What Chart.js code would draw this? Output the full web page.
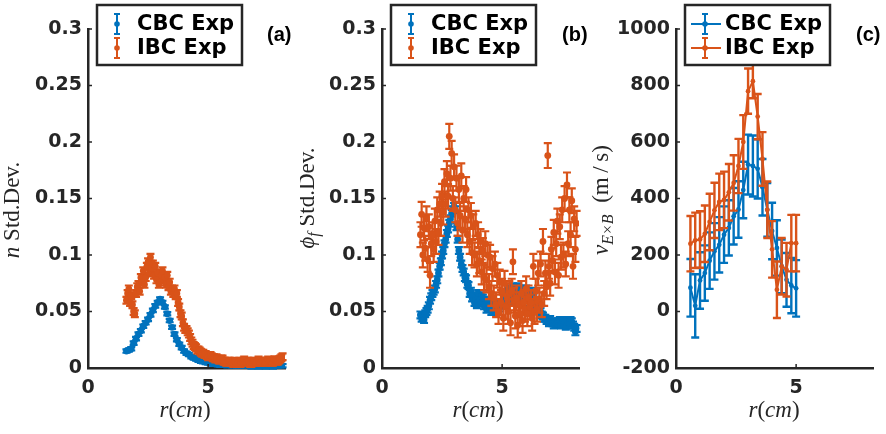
<!DOCTYPE html>
<html>
<head>
<meta charset="utf-8">
<script src="https://cdn.jsdelivr.net/npm/chart.js@4.4.1/dist/chart.umd.min.js"></script>
<style>
  body { margin: 0; background: #fff; }
  #wrap { position: relative; width: 886px; height: 434px; }
  .panel { position: absolute; top: 0; height: 434px; }
</style>
</head>
<body>
<div id="wrap">
  <div class="panel" style="left:0;width:300px"><canvas id="chartA"></canvas></div>
  <div class="panel" style="left:300px;width:290px"><canvas id="chartB"></canvas></div>
  <div class="panel" style="left:590px;width:296px"><canvas id="chartC"></canvas></div>
</div>
<script>
// radial positions (cm), coarse grid for CBC density
const rAB = [
  1.6, 1.7, 1.8, 1.9, 2.0, 2.1, 2.2, 2.3, 2.4, 2.5,
  2.6, 2.7, 2.8, 2.9, 3.0, 3.1, 3.2, 3.3, 3.4, 3.5,
  3.6, 3.7, 3.8, 3.9, 4.0, 4.1, 4.2, 4.3, 4.4, 4.5,
  4.6, 4.7, 4.8, 4.9, 5.0, 5.1, 5.2, 5.3, 5.4, 5.5,
  5.6, 5.7, 5.8, 5.9, 6.0, 6.1, 6.2, 6.3, 6.4, 6.5,
  6.6, 6.7, 6.8, 6.9, 7.0, 7.1, 7.2, 7.3, 7.4, 7.5,
  7.6, 7.7, 7.8, 7.9, 8.0, 8.1
];
// fine grid for the noisier profiles
const rFine = [
  1.60, 1.65, 1.70, 1.75, 1.80, 1.85, 1.90, 1.95, 2.00, 2.05,
  2.10, 2.15, 2.20, 2.25, 2.30, 2.35, 2.40, 2.45, 2.50, 2.55,
  2.60, 2.65, 2.70, 2.75, 2.80, 2.85, 2.90, 2.95, 3.00, 3.05,
  3.10, 3.15, 3.20, 3.25, 3.30, 3.35, 3.40, 3.45, 3.50, 3.55,
  3.60, 3.65, 3.70, 3.75, 3.80, 3.85, 3.90, 3.95, 4.00, 4.05,
  4.10, 4.15, 4.20, 4.25, 4.30, 4.35, 4.40, 4.45, 4.50, 4.55,
  4.60, 4.65, 4.70, 4.75, 4.80, 4.85, 4.90, 4.95, 5.00, 5.05,
  5.10, 5.15, 5.20, 5.25, 5.30, 5.35, 5.40, 5.45, 5.50, 5.55,
  5.60, 5.65, 5.70, 5.75, 5.80, 5.85, 5.90, 5.95, 6.00, 6.05,
  6.10, 6.15, 6.20, 6.25, 6.30, 6.35, 6.40, 6.45, 6.50, 6.55,
  6.60, 6.65, 6.70, 6.75, 6.80, 6.85, 6.90, 6.95, 7.00, 7.05,
  7.10, 7.15, 7.20, 7.25, 7.30, 7.35, 7.40, 7.45, 7.50, 7.55,
  7.60, 7.65, 7.70, 7.75, 7.80, 7.85, 7.90, 7.95, 8.00, 8.05,
  8.10
];

// (a) density std. dev.
const cbcA = [
  0.015, 0.016, 0.017, 0.022, 0.026, 0.030, 0.033, 0.037, 0.040, 0.043,
  0.047, 0.051, 0.055, 0.058, 0.061, 0.058, 0.054, 0.048, 0.042, 0.036,
  0.030, 0.025, 0.021, 0.018, 0.015, 0.013, 0.012, 0.010, 0.009, 0.008,
  0.007, 0.006, 0.006, 0.005, 0.005, 0.004, 0.004, 0.004, 0.003, 0.003,
  0.003, 0.003, 0.002, 0.003, 0.002, 0.002, 0.002, 0.002, 0.002, 0.002,
  0.002, 0.002, 0.001, 0.002, 0.002, 0.001, 0.002, 0.002, 0.001, 0.002,
  0.002, 0.001, 0.002, 0.002, 0.002, 0.002
];
const ibcA = [
  0.060, 0.066, 0.070, 0.058, 0.064, 0.056, 0.050, 0.048, 0.066, 0.072,
  0.074, 0.068, 0.080, 0.076, 0.086, 0.074, 0.080, 0.090, 0.094, 0.084,
  0.098, 0.088, 0.092, 0.082, 0.090, 0.078, 0.084, 0.074, 0.076, 0.082,
  0.086, 0.078, 0.080, 0.074, 0.082, 0.072, 0.076, 0.068, 0.070, 0.066,
  0.070, 0.064, 0.066, 0.058, 0.054, 0.048, 0.046, 0.040, 0.036, 0.034,
  0.034, 0.032, 0.030, 0.027, 0.024, 0.022, 0.020, 0.019, 0.018, 0.016,
  0.016, 0.015, 0.014, 0.013, 0.013, 0.012, 0.012, 0.011, 0.010, 0.011,
  0.011, 0.010, 0.009, 0.009, 0.008, 0.009, 0.008, 0.007, 0.007, 0.008,
  0.008, 0.006, 0.006, 0.005, 0.005, 0.006, 0.006, 0.005, 0.005, 0.004,
  0.006, 0.005, 0.004, 0.005, 0.006, 0.004, 0.005, 0.006, 0.007, 0.005,
  0.005, 0.006, 0.006, 0.004, 0.004, 0.005, 0.006, 0.005, 0.005, 0.006,
  0.007, 0.005, 0.005, 0.006, 0.006, 0.005, 0.005, 0.006, 0.007, 0.006,
  0.006, 0.005, 0.005, 0.007, 0.007, 0.006, 0.006, 0.007, 0.008, 0.009,
  0.010
];
const cbcErrA = 0.0015;
const ibcErrA = 0.003;

// (b) potential std. dev.
const cbcB = [
  0.047, 0.044, 0.045, 0.043, 0.048, 0.050, 0.052, 0.055, 0.060, 0.063,
  0.066, 0.068, 0.070, 0.074, 0.078, 0.084, 0.090, 0.094, 0.100, 0.104,
  0.110, 0.114, 0.119, 0.123, 0.128, 0.132, 0.137, 0.140, 0.143, 0.140,
  0.125, 0.114, 0.104, 0.098, 0.092, 0.088, 0.085, 0.080, 0.079, 0.074,
  0.073, 0.066, 0.068, 0.062, 0.064, 0.058, 0.060, 0.056, 0.066, 0.060,
  0.058, 0.064, 0.062, 0.055, 0.056, 0.052, 0.060, 0.055, 0.054, 0.050,
  0.058, 0.052, 0.052, 0.056, 0.056, 0.050, 0.053, 0.058, 0.057, 0.062,
  0.060, 0.066, 0.066, 0.070, 0.064, 0.058, 0.070, 0.072, 0.068, 0.064,
  0.066, 0.072, 0.070, 0.062, 0.064, 0.070, 0.067, 0.062, 0.070, 0.066,
  0.064, 0.058, 0.068, 0.060, 0.062, 0.056, 0.058, 0.052, 0.054, 0.050,
  0.050, 0.047, 0.046, 0.044, 0.044, 0.042, 0.042, 0.040, 0.043, 0.041,
  0.040, 0.038, 0.041, 0.039, 0.039, 0.041, 0.042, 0.038, 0.040, 0.042,
  0.041, 0.037, 0.038, 0.040, 0.040, 0.042, 0.041, 0.038, 0.036, 0.032,
  0.035
];
const ibcB = [
  0.118, 0.136, 0.100, 0.124, 0.106, 0.132, 0.096, 0.125, 0.082, 0.110,
  0.118, 0.105, 0.130, 0.112, 0.140, 0.120, 0.145, 0.128, 0.152, 0.138,
  0.165, 0.145, 0.172, 0.152, 0.205, 0.168, 0.190, 0.150, 0.178, 0.140,
  0.168, 0.128, 0.158, 0.135, 0.170, 0.122, 0.150, 0.132, 0.158, 0.118,
  0.140, 0.112, 0.135, 0.102, 0.125, 0.100, 0.128, 0.092, 0.118, 0.095,
  0.112, 0.085, 0.104, 0.080, 0.110, 0.078, 0.100, 0.072, 0.098, 0.066,
  0.088, 0.062, 0.092, 0.056, 0.082, 0.050, 0.076, 0.058, 0.068, 0.044,
  0.075, 0.054, 0.064, 0.050, 0.066, 0.040, 0.068, 0.094, 0.060, 0.046,
  0.062, 0.038, 0.056, 0.048, 0.066, 0.042, 0.058, 0.052, 0.070, 0.048,
  0.062, 0.054, 0.058, 0.044, 0.090, 0.050, 0.068, 0.052, 0.084, 0.060,
  0.092, 0.056, 0.112, 0.066, 0.084, 0.072, 0.188, 0.090, 0.075, 0.105,
  0.095, 0.120, 0.085, 0.110, 0.130, 0.082, 0.125, 0.098, 0.140, 0.100,
  0.150, 0.092, 0.162, 0.110, 0.140, 0.118, 0.148, 0.090, 0.132, 0.105,
  0.128
];
const cbcErrB = 0.003;
const ibcErrB = 0.011;

// (c) ExB velocity (m/s)
const rC = [0.6, 0.8, 1.0, 1.2, 1.4, 1.6, 1.8, 2.0, 2.2, 2.4, 2.6, 2.8,
            3.0, 3.2, 3.4, 3.6, 3.8, 4.0, 4.2, 4.4, 4.6, 4.8, 5.0];
const cbcC = [84, 20, 110, 136, 180, 213, 236, 272, 296, 337, 361, 430,
              520, 515, 505, 440, 360, 285, 225, 160, 112, 92, 82];
const cbcErrC = [102, 112, 100, 98, 100, 100, 98, 100, 98, 100, 100, 100,
                 106, 108, 105, 100, 95, 100, 98, 95, 95, 98, 100];
const ibcC = [240, 252, 255, 275, 317, 358, 388, 395, 422, 455, 515, 600,
              780, 815, 690, 540, 360, 220, 77, 160, 148, 242, 242];
const ibcErrC = [98, 98, 100, 100, 100, 98, 100, 100, 100, 98, 96, 95,
                 80, 60, 80, 95, 100, 100, 100, 100, 95, 100, 100];

// ticks
const xTicks = [0, 5];
const yTicksAB = [0, 0.05, 0.1, 0.15, 0.2, 0.25, 0.3];
const yLabelsAB = ["0", "0.05", "0.1", "0.15", "0.2", "0.25", "0.3"];
const yTicksC = [-200, 0, 200, 400, 600, 800, 1000];
const yLabelsC = ["-200", "0", "200", "400", "600", "800", "1000"];

const blue = "#0072BD";
const orange = "#D95319";
const ink = "#262626";
const tickFont = { family: "'DejaVu Sans'", size: 19, weight: "bold" };

const it = "italic 23px 'Liberation Serif'";
const rm = "23px 'Liberation Serif'";
const sub = "italic 16px 'Liberation Serif'";

function pts(xs, ys) {
  return xs.map((x, i) => ({ x: x, y: ys[i] }));
}

// vertical error bars with caps, drawn just before each dataset's markers
const errorBarPlugin = {
  id: "errorBars",
  beforeDatasetDraw(chart, args) {
    const ds = chart.data.datasets[args.index];
    if (ds.err === undefined) return;
    const ctx = chart.ctx;
    const ys = chart.scales.y;
    const cap = ds.cap;
    ctx.save();
    ctx.strokeStyle = ds.borderColor;
    ctx.lineWidth = ds.errWidth;
    args.meta.data.forEach((pt, i) => {
      const e = Array.isArray(ds.err) ? ds.err[i] : ds.err;
      const v = ds.data[i].y;
      const top = ys.getPixelForValue(v + e);
      const bot = ys.getPixelForValue(v - e);
      ctx.beginPath();
      ctx.moveTo(pt.x, top);
      ctx.lineTo(pt.x, bot);
      ctx.moveTo(pt.x - cap, top);
      ctx.lineTo(pt.x + cap, top);
      ctx.moveTo(pt.x - cap, bot);
      ctx.lineTo(pt.x + cap, bot);
      ctx.stroke();
    });
    ctx.restore();
  }
};

function drawRich(ctx, parts) {
  // parts drawn left to right, centred on the current origin
  let w = 0;
  parts.forEach(p => { ctx.font = p.f; w += ctx.measureText(p.t).width; });
  let x = -w / 2;
  parts.forEach(p => {
    ctx.font = p.f;
    ctx.fillText(p.t, x, p.dy || 0);
    x += ctx.measureText(p.t).width;
  });
}

// axis ticks (inward), titles, panel tag and legend
const decorPlugin = {
  id: "decor",
  afterDraw(chart, args, opts) {
    const ctx = chart.ctx;
    const a = chart.chartArea;
    const xs = chart.scales.x, ys = chart.scales.y;
    ctx.save();
    ctx.strokeStyle = ink;
    ctx.lineWidth = 1.5;
    ctx.beginPath();
    ys.ticks.forEach(t => {
      const y = ys.getPixelForValue(t.value);
      ctx.moveTo(a.left, y);
      ctx.lineTo(a.left + 4, y);
    });
    xs.ticks.forEach(t => {
      const x = xs.getPixelForValue(t.value);
      ctx.moveTo(x, a.bottom);
      ctx.lineTo(x, a.bottom - 4);
    });
    ctx.stroke();

    ctx.fillStyle = ink;
    ctx.textBaseline = "alphabetic";
    ctx.save();
    ctx.translate(opts.xTitleX, 417);
    drawRich(ctx, [{ t: "r", f: it }, { t: "(", f: rm }, { t: "cm", f: it }, { t: ")", f: rm }]);
    ctx.restore();
    ctx.save();
    ctx.translate(opts.yTitleX, opts.yTitleY);
    ctx.rotate(-Math.PI / 2);
    drawRich(ctx, opts.yTitle);
    ctx.restore();

    ctx.fillStyle = "#000";
    ctx.font = "bold 20px 'Liberation Sans'";
    ctx.textBaseline = "middle";
    ctx.textAlign = "left";
    ctx.fillText(opts.tag, opts.tagX, 35);

    const L = opts.legendX, T = 5, W = 145, H = 60;
    ctx.fillStyle = "#fff";
    ctx.fillRect(L, T, W, H);
    ctx.strokeStyle = ink;
    ctx.lineWidth = 2.5;
    ctx.strokeRect(L, T, W, H);
    const rows = [{ label: "CBC Exp", color: blue, y: 24 }, { label: "IBC Exp", color: orange, y: 48 }];
    rows.forEach(row => {
      const cx = L + 20;
      ctx.strokeStyle = row.color;
      ctx.fillStyle = row.color;
      ctx.lineWidth = 2;
      ctx.beginPath();
      if (opts.legendLine) {
        ctx.moveTo(L + 6, row.y);
        ctx.lineTo(L + 36, row.y);
      }
      ctx.moveTo(cx, row.y - 10);
      ctx.lineTo(cx, row.y + 10);
      ctx.moveTo(cx - 3, row.y - 10);
      ctx.lineTo(cx + 3, row.y - 10);
      ctx.moveTo(cx - 3, row.y + 10);
      ctx.lineTo(cx + 3, row.y + 10);
      ctx.stroke();
      ctx.beginPath();
      ctx.arc(cx, row.y, 2.8, 0, Math.PI * 2);
      ctx.fill();
      ctx.fillStyle = "#000";
      ctx.font = "bold 21px 'DejaVu Sans'";
      ctx.fillText(row.label, L + 40, row.y + 1);
    });
    ctx.restore();
  }
};

function makePanel(id, cfg) {
  const series = (label, data, err, color, order) => ({
    label: label,
    data: data,
    err: err,
    cap: cfg.cap,
    errWidth: cfg.errWidth,
    borderColor: color,
    backgroundColor: color,
    pointRadius: cfg.radius,
    pointBorderWidth: 0,
    showLine: cfg.line,
    borderWidth: 2,
    order: order
  });
  return new Chart(document.getElementById(id), {
    type: "scatter",
    data: {
      datasets: [
        series("CBC Exp", cfg.cbc, cfg.cbcErr, blue, 2),
        series("IBC Exp", cfg.ibc, cfg.ibcErr, orange, 1)
      ]
    },
    options: {
      responsive: true,
      maintainAspectRatio: false,
      animation: false,
      layout: { padding: { left: 0, right: cfg.padRight, top: 29, bottom: 0 } },
      plugins: {
        legend: { display: false },
        tooltip: { enabled: false },
        decor: cfg.decor
      },
      scales: {
        x: {
          type: "linear",
          min: 0,
          max: 8.2,
          afterFit: (s) => { s.height = 66; },
          afterBuildTicks: (s) => { s.ticks = xTicks.map(v => ({ value: v })); },
          grid: { display: false, drawTicks: false },
          border: { display: true, color: ink, width: 2.5 },
          ticks: { font: tickFont, color: ink, padding: 9 }
        },
        y: {
          type: "linear",
          min: cfg.yTicks[0],
          max: cfg.yTicks[cfg.yTicks.length - 1],
          afterFit: (s) => { s.width = cfg.axisLeft; },
          afterBuildTicks: (s) => { s.ticks = cfg.yTicks.map(v => ({ value: v })); },
          grid: { display: false, drawTicks: false },
          border: { display: true, color: ink, width: 2.5 },
          ticks: {
            font: tickFont,
            color: ink,
            padding: 6,
            callback: (v, i) => cfg.yLabels[i]
          }
        }
      }
    },
    plugins: [errorBarPlugin, decorPlugin]
  });
}

makePanel("chartA", {
  cbc: pts(rAB, cbcA), cbcErr: cbcErrA,
  ibc: pts(rFine, ibcA), ibcErr: ibcErrA,
  yTicks: yTicksAB, yLabels: yLabelsAB,
  axisLeft: 88, padRight: 15,
  radius: 3.4, cap: 4, errWidth: 2.2, line: false,
  decor: {
    xTitleX: 185, yTitleX: 19, yTitleY: 210,
    yTitle: [{ t: "n", f: it }, { t: " Std.Dev.", f: rm }],
    tag: "(a)", tagX: 267, legendX: 97, legendLine: false
  }
});

makePanel("chartB", {
  cbc: pts(rFine, cbcB), cbcErr: cbcErrB,
  ibc: pts(rFine, ibcB), ibcErr: ibcErrB,
  yTicks: yTicksAB, yLabels: yLabelsAB,
  axisLeft: 82, padRight: 11,
  radius: 3.4, cap: 4, errWidth: 2.2, line: false,
  decor: {
    xTitleX: 178, yTitleX: 14, yTitleY: 198,
    yTitle: [{ t: "\u03D5", f: it }, { t: "f", f: sub, dy: 5 }, { t: " Std.Dev.", f: rm }],
    tag: "(b)", tagX: 262, legendX: 91, legendLine: false
  }
});

makePanel("chartC", {
  cbc: pts(rC, cbcC), cbcErr: cbcErrC,
  ibc: pts(rC, ibcC), ibcErr: ibcErrC,
  yTicks: yTicksC, yLabels: yLabelsC,
  axisLeft: 86, padRight: 13,
  radius: 2.4, cap: 4, errWidth: 2.4, line: true,
  decor: {
    xTitleX: 184, yTitleX: 18, yTitleY: 200,
    yTitle: [{ t: "v", f: it }, { t: "E\u00D7B", f: sub, dy: 5 }, { t: "  (m\u2009/\u2009s)", f: rm }],
    tag: "(c)", tagX: 266, legendX: 95, legendLine: true
  }
});
</script>
</body>
</html>
